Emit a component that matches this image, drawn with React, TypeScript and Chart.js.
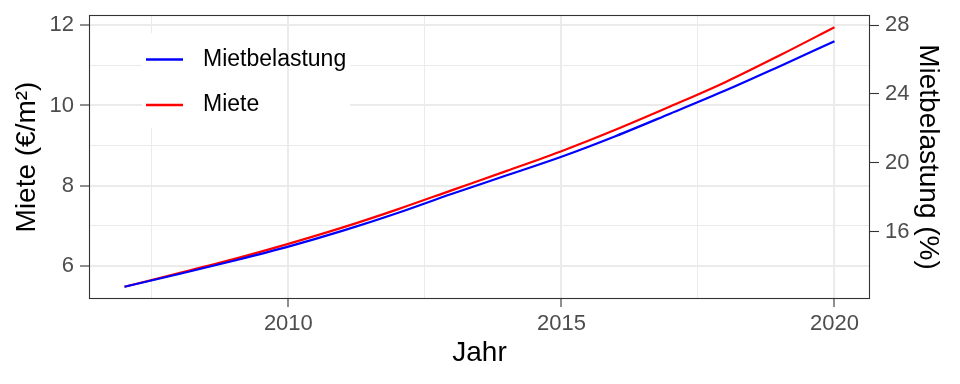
import React, { useEffect, useRef } from "react";
import { Chart, registerables } from "chart.js";

Chart.register(...registerables);

const years = [2007, 2008, 2009, 2010, 2011, 2012, 2013, 2014, 2015, 2016, 2017, 2018, 2019, 2020];
const miete = [5.48, 5.82, 6.17, 6.55, 6.96, 7.41, 7.89, 8.37, 8.86, 9.40, 9.98, 10.58, 11.25, 11.95];
const mietbelastung = [12.79, 13.53, 14.30, 15.12, 16.05, 17.08, 18.2, 19.27, 20.35, 21.56, 22.87, 24.2, 25.62, 27.07];

const xTicks = [2007.5, 2010, 2012.5, 2015, 2017.5, 2020];
const xMajor = [2010, 2015, 2020];
const yTicks = [6, 7, 8, 9, 10, 11, 12];
const yMajor = [6, 8, 10, 12];
const y2Ticks = [16, 20, 24, 28];

const legendItems = ["Mietbelastung", "Miete"];
const legendColors = ["#0000FF", "#FF0000"];

const FONT = "'Liberation Sans', Arial, Helvetica, sans-serif";
const SCALE_FACTOR = 7 / 3;
const Y_MIN = 5.175;
const Y_MAX = 12.255;

const panelPlugin = {
  id: "panelDecor",
  afterDatasetsDraw(chart: any) {
    const { ctx, chartArea } = chart;
    const xs = chart.scales.x;
    ctx.save();
    const lx = 142, ly = 33, lw = 208, lh = 95;
    ctx.fillStyle = "#FFFFFF";
    ctx.fillRect(lx, ly, lw, lh);
    const px = Math.round(xs.getPixelForValue(2010));
    ctx.strokeStyle = "#EBEBEB";
    ctx.lineWidth = 2;
    ctx.beginPath();
    ctx.moveTo(px, ly);
    ctx.lineTo(px, ly + lh);
    ctx.stroke();
    const rowsY = [59.5, 105];
    legendItems.forEach((t, i) => {
      ctx.strokeStyle = legendColors[i];
      ctx.lineWidth = 2.4;
      ctx.beginPath();
      ctx.moveTo(146, rowsY[i]);
      ctx.lineTo(183, rowsY[i]);
      ctx.stroke();
      ctx.fillStyle = "#000000";
      ctx.font = `23px ${FONT}`;
      ctx.textAlign = "left";
      ctx.textBaseline = "middle";
      ctx.fillText(t, 203, rowsY[i]);
    });
    ctx.strokeStyle = "#333333";
    ctx.lineWidth = 1.1;
    ctx.strokeRect(chartArea.left + 0.5, chartArea.top + 0.5, chartArea.right - chartArea.left - 1, chartArea.bottom - chartArea.top - 1);
    ctx.restore();
  },
};

export default function App() {
  const ref = useRef<HTMLCanvasElement>(null);
  useEffect(() => {
    if (!ref.current) return;
    const chart = new Chart(ref.current, {
      type: "line",
      data: {
        datasets: [
          {
            label: "Mietbelastung",
            data: years.map((x, i) => ({ x, y: mietbelastung[i] })),
            borderColor: "#0000FF",
            borderWidth: 2.2,
            pointRadius: 0,
            cubicInterpolationMode: "monotone",
            yAxisID: "y2",
          },
          {
            label: "Miete",
            data: years.map((x, i) => ({ x, y: miete[i] })),
            borderColor: "#FF0000",
            borderWidth: 2.2,
            pointRadius: 0,
            cubicInterpolationMode: "monotone",
            yAxisID: "y",
          },
        ],
      },
      options: {
        animation: false,
        responsive: false,
        devicePixelRatio: 1,
        layout: { padding: { top: 15, left: 0, right: 0, bottom: 0 } },
        plugins: { legend: { display: false }, tooltip: { enabled: false } },
        scales: {
          x: {
            type: "linear",
            min: 2006.35,
            max: 2020.65,
            afterBuildTicks: (s: any) => {
              s.ticks = xTicks.map((v) => ({ value: v }));
            },
            afterFit: (s: any) => {
              s.height = 85;
              s.paddingLeft = 0;
              s.paddingRight = 0;
            },
            border: { display: false },
            grid: {
              color: "#EBEBEB",
              lineWidth: (c: any) => (c.tick && xMajor.includes(c.tick.value) ? 2 : 1),
              tickColor: (c: any) => (c.tick && xMajor.includes(c.tick.value) ? "#333333" : "rgba(0,0,0,0)"),
              tickLength: 8,
              tickWidth: 1.1,
            },
            ticks: {
              color: "#4D4D4D",
              font: { size: 22, family: FONT },
              padding: 4,
              maxRotation: 0,
              autoSkip: false,
              callback: (v: any) => (xMajor.includes(Number(v)) ? String(v) : ""),
            },
            title: {
              display: true,
              text: "Jahr",
              color: "#000000",
              font: { size: 28, family: FONT },
              padding: 14,
            },
          },
          y: {
            type: "linear",
            position: "left",
            min: Y_MIN,
            max: Y_MAX,
            afterBuildTicks: (s: any) => {
              s.ticks = yTicks.map((v) => ({ value: v }));
            },
            afterFit: (s: any) => {
              s.width = 89;
              s.paddingTop = 0;
              s.paddingBottom = 0;
            },
            border: { display: false },
            grid: {
              color: "#EBEBEB",
              lineWidth: (c: any) => (c.tick && yMajor.includes(c.tick.value) ? 2 : 1),
              tickColor: (c: any) => (c.tick && yMajor.includes(c.tick.value) ? "#333333" : "rgba(0,0,0,0)"),
              tickLength: 9,
              tickWidth: 1.1,
            },
            ticks: {
              color: "#4D4D4D",
              font: { size: 22, family: FONT },
              padding: 6,
              autoSkip: false,
              callback: (v: any) => (yMajor.includes(Number(v)) ? String(v) : ""),
            },
            title: {
              display: true,
              text: "Miete (€/m²)",
              color: "#000000",
              font: { size: 28, family: FONT },
              padding: 10,
            },
          },
          y2: {
            type: "linear",
            position: "right",
            min: Y_MIN * SCALE_FACTOR,
            max: Y_MAX * SCALE_FACTOR,
            afterBuildTicks: (s: any) => {
              s.ticks = y2Ticks.map((v) => ({ value: v }));
            },
            afterFit: (s: any) => {
              s.width = 90;
              s.paddingTop = 0;
              s.paddingBottom = 0;
            },
            border: { display: false },
            grid: {
              drawOnChartArea: false,
              tickColor: "#333333",
              tickLength: 9,
              tickWidth: 1.1,
            },
            ticks: {
              color: "#4D4D4D",
              font: { size: 22, family: FONT },
              padding: 6,
              autoSkip: false,
            },
            title: {
              display: true,
              text: "Mietbelastung (%)",
              color: "#000000",
              font: { size: 28, family: FONT },
              padding: 15,
            },
          },
        },
      },
      plugins: [panelPlugin],
    });
    return () => chart.destroy();
  }, []);
  return (
    <div style={{ position: "absolute", left: 0, top: 0, width: 960, height: 384, background: "#FFFFFF" }}>
      <canvas ref={ref} width={960} height={384} />
    </div>
  );
}
